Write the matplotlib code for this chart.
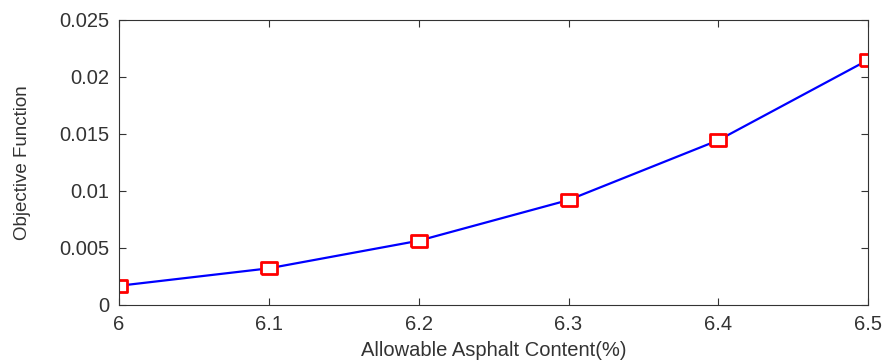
import matplotlib
matplotlib.use('Agg')
import matplotlib.pyplot as plt

# asphalt content (%) and objective function values
content = [6.0, 6.1, 6.2, 6.3, 6.4, 6.5]
objective = [0.00168, 0.00321, 0.00563, 0.0092, 0.01445, 0.0215]

xticks = [6, 6.1, 6.2, 6.3, 6.4, 6.5]
xticklabels = ['6', '6.1', '6.2', '6.3', '6.4', '6.5']
yticks = [0, 0.005, 0.01, 0.015, 0.02, 0.025]
yticklabels = ['0', '0.005', '0.01', '0.015', '0.02', '0.025']

plt.rcParams['font.family'] = ['Liberation Sans', 'DejaVu Sans']

fig = plt.figure(figsize=(8.85, 3.63), dpi=100)
ax = fig.add_axes([0.1345, 0.16, 0.8465, 0.785])

# slightly wide rectangle marker (the original looks stretched sideways)
rect = [(-1.25, -1), (1.25, -1), (1.25, 1), (-1.25, 1), (-1.25, -1)]
ax.plot(content, objective, color='#0000ff', lw=1.6,
        marker=rect, ms=11, mfc='white', mec='#ff0000', mew=2)

ax.set_xlim(6, 6.5)
ax.set_ylim(0, 0.025)
ax.set_xticks(xticks)
ax.set_xticklabels(xticklabels)
ax.set_yticks(yticks)
ax.set_yticklabels(yticklabels)
ax.tick_params(direction='in', top=True, right=True, length=5, pad=7,
               labelsize=14.5, labelcolor='#333333', color='#333333')
for s in ax.spines.values():
    s.set_color('#333333')

ax.set_xlabel('Allowable Asphalt Content(%)', fontsize=14.5, color='#333333', labelpad=5)
ax.set_ylabel('Objective Function', fontsize=13.5, color='#333333', labelpad=20)

fig.savefig('out.png', dpi=100)
